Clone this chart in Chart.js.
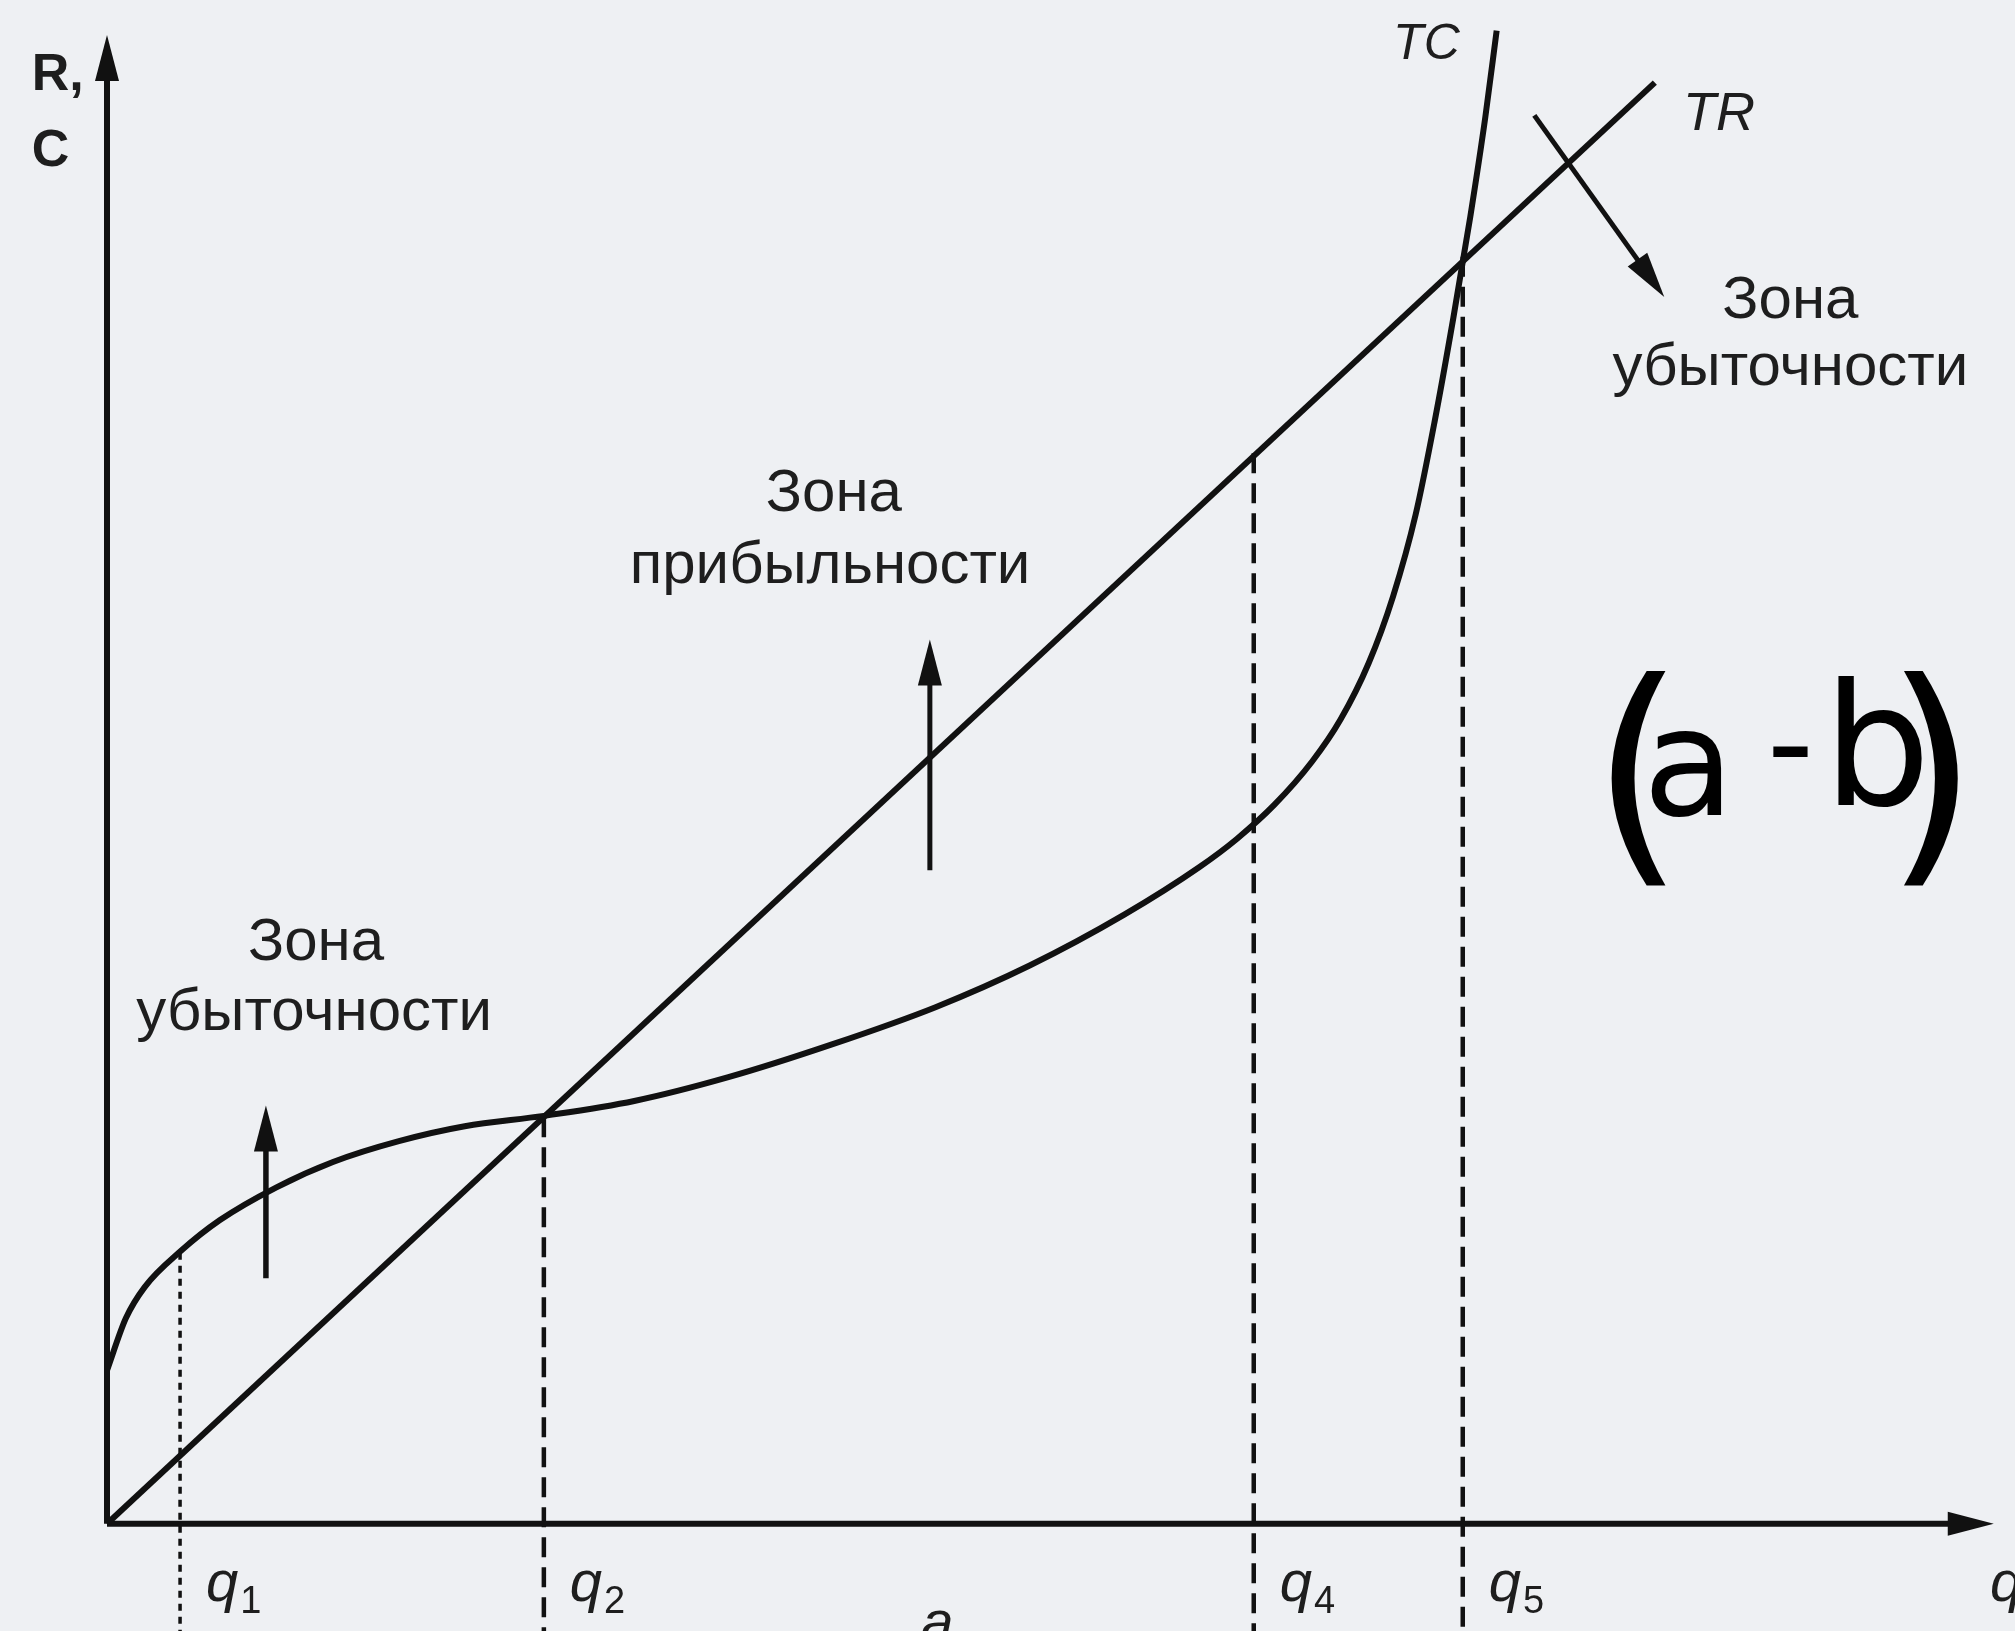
<!DOCTYPE html>
<html>
<head>
<meta charset="utf-8">
<script src="https://cdn.jsdelivr.net/npm/chart.js@4.4.0/dist/chart.umd.min.js"></script>
<style>
  body { margin: 0; background: #eef0f3; }
  #wrap { width: 2015px; height: 1631px; }
</style>
</head>
<body>
<div id="wrap"><canvas id="beChart" width="2015" height="1631"></canvas></div>
<script>
// total cost curve TC
const tcQ    = [0, 1, 2, 3.9, 6, 9, 12, 15.5, 19, 23.2, 28, 33, 38.5, 44, 49, 54, 58, 60, 62, 64, 65.5, 67, 68.3, 69.5, 70.5, 71.5, 72.4, 73.2, 73.8];
const tcCost = [10.3, 13.8, 15.9, 18.3, 20.4, 22.6, 24.3, 25.7, 26.7, 27.4, 28.4, 30.0, 32.2, 34.7, 37.5, 40.9, 44.1, 46.0, 48.3, 51.2, 54.0, 57.8, 62.3, 67.8, 74.0, 81.0, 87.8, 94.5, 100.3];

// total revenue line TR
const trQ   = [0, 82.2];
const trRev = [0, 96.8];

// marked quantities q1, q2, q4, q5 and where their guides start
const markQ    = [3.88, 23.2, 60.9, 72.0];
const markTop  = [18.2, 27.3, 71.9, 85.1];
const markName = ['1', '2', '4', '5'];
const yBottom = -7.2;

const ink = '#111111';
const txt = '#1e1e1e';

const curve = (xs, ys) => xs.map((v, i) => ({ x: v, y: ys[i] }));

const guides = markQ.map((q, i) => ({
  data: [{ x: q, y: markTop[i] }, { x: q, y: yBottom }],
  borderColor: ink,
  borderWidth: i === 0 ? 3.5 : 4.5,
  borderDash: i === 0 ? [7, 6] : [20, 10],
  pointRadius: 0,
  showLine: true,
  clip: false
}));

// arrows: axes and zone pointers [x1, y1, x2, y2, width]
const arrows = [
  [0, 0, 100.2, 0, 6],
  [0, 0, 0, 100, 6],
  [8.44, 16.5, 8.44, 28.1, 5.5],
  [43.7, 43.9, 43.7, 59.4, 5],
  [75.8, 94.6, 82.7, 82.4, 5]
];

const notes = [
  { text: 'R,', x: -4.0, y: 96.3, font: 'bold 52px "Liberation Sans"' },
  { text: 'C', x: -4.0, y: 91.2, font: 'bold 52px "Liberation Sans"' },
  { text: 'TC', x: 68.3, y: 98.4, font: 'italic 50px "Liberation Sans"' },
  { text: 'TR', x: 83.7, y: 93.6, font: 'italic 54px "Liberation Sans"' },
  { text: 'Зона', x: 89.4, y: 81.0, font: '60px "Liberation Sans"', align: 'center' },
  { text: 'убыточности', x: 89.4, y: 76.5, font: '60px "Liberation Sans"', align: 'center' },
  { text: 'Зона', x: 38.6, y: 68.0, font: '60px "Liberation Sans"', align: 'center' },
  { text: 'прибыльности', x: 38.4, y: 63.2, font: '60px "Liberation Sans"', align: 'center' },
  { text: 'Зона', x: 11.1, y: 37.9, font: '60px "Liberation Sans"', align: 'center' },
  { text: 'убыточности', x: 11.0, y: 33.2, font: '60px "Liberation Sans"', align: 'center' },
  { text: 'q', x: 100.0, y: -5.2, font: 'italic 58px "Liberation Sans"' },
  { text: 'a', x: 44.1, y: -7.9, font: 'italic 58px "Liberation Sans"', align: 'center' },
  // handwritten remark
  { text: '(', x: 81.3, y: 45.0, font: '240px "DejaVu Sans"', align: 'center', color: '#000' },
  { text: 'a', x: 84.0, y: 47.6, font: '150px "DejaVu Sans"', align: 'center', color: '#000' },
  { text: '-', x: 89.4, y: 49.5, font: '130px "DejaVu Sans"', align: 'center', color: '#000' },
  { text: 'b', x: 94.0, y: 48.3, font: '170px "DejaVu Sans"', align: 'center', color: '#000' },
  { text: ')', x: 96.9, y: 45.0, font: '240px "DejaVu Sans"', align: 'center', color: '#000' },
  { text: ':', x: 101.0, y: 50.0, font: 'bold 150px "DejaVu Sans"', color: '#000' }
];

const sketch = {
  id: 'sketch',
  beforeDraw(chart) {
    const ctx = chart.ctx;
    ctx.save();
    ctx.fillStyle = '#eef0f3';
    ctx.fillRect(0, 0, chart.width, chart.height);
    ctx.restore();
  },
  afterDatasetsDraw(chart) {
    const { ctx, scales: { x, y } } = chart;
    const px = v => x.getPixelForValue(v);
    const py = v => y.getPixelForValue(v);
    ctx.save();
    ctx.strokeStyle = ink;
    ctx.fillStyle = ink;
    arrows.forEach(a => {
      const x1 = px(a[0]), y1 = py(a[1]), x2 = px(a[2]), y2 = py(a[3]);
      const ang = Math.atan2(y2 - y1, x2 - x1);
      const len = 46, half = 12;
      ctx.lineWidth = a[4];
      ctx.beginPath();
      ctx.moveTo(x1, y1);
      ctx.lineTo(x2 - Math.cos(ang) * len * 0.8, y2 - Math.sin(ang) * len * 0.8);
      ctx.stroke();
      ctx.beginPath();
      ctx.moveTo(x2, y2);
      ctx.lineTo(x2 - Math.cos(ang) * len - Math.sin(ang) * half, y2 - Math.sin(ang) * len + Math.cos(ang) * half);
      ctx.lineTo(x2 - Math.cos(ang) * len + Math.sin(ang) * half, y2 - Math.sin(ang) * len - Math.cos(ang) * half);
      ctx.closePath();
      ctx.fill();
    });
    notes.forEach(n => {
      ctx.font = n.font;
      ctx.fillStyle = n.color || txt;
      ctx.textAlign = n.align || 'left';
      ctx.textBaseline = 'alphabetic';
      ctx.fillText(n.text, px(n.x), py(n.y));
    });
    // q labels with subscripts
    markQ.forEach((q, i) => {
      const lx = px(q) + 26, ly = py(-5.2);
      ctx.textAlign = 'left';
      ctx.fillStyle = txt;
      ctx.font = 'italic 58px "Liberation Sans"';
      ctx.fillText('q', lx, ly);
      const w = ctx.measureText('q').width;
      ctx.font = '38px "Liberation Sans"';
      ctx.fillText(markName[i], lx + w + 2, ly + 12);
    });
    ctx.restore();
  }
};

new Chart(document.getElementById('beChart'), {
  type: 'scatter',
  data: {
    datasets: [
      {
        label: 'TC',
        data: curve(tcQ, tcCost),
        showLine: true,
        cubicInterpolationMode: 'monotone',
        borderColor: ink,
        borderWidth: 6,
        pointRadius: 0,
        clip: false
      },
      {
        label: 'TR',
        data: curve(trQ, trRev),
        showLine: true,
        borderColor: ink,
        borderWidth: 6,
        pointRadius: 0,
        clip: false
      },
      ...guides
    ]
  },
  options: {
    responsive: false,
    animation: false,
    devicePixelRatio: 1,
    layout: { padding: { left: 107, right: 25, top: 35, bottom: 0 } },
    plugins: { legend: { display: false }, tooltip: { enabled: false } },
    scales: {
      x: { type: 'linear', min: 0, max: 100, display: false },
      y: { type: 'linear', min: yBottom, max: 100, display: false }
    }
  },
  plugins: [sketch]
});
</script>
</body>
</html>
